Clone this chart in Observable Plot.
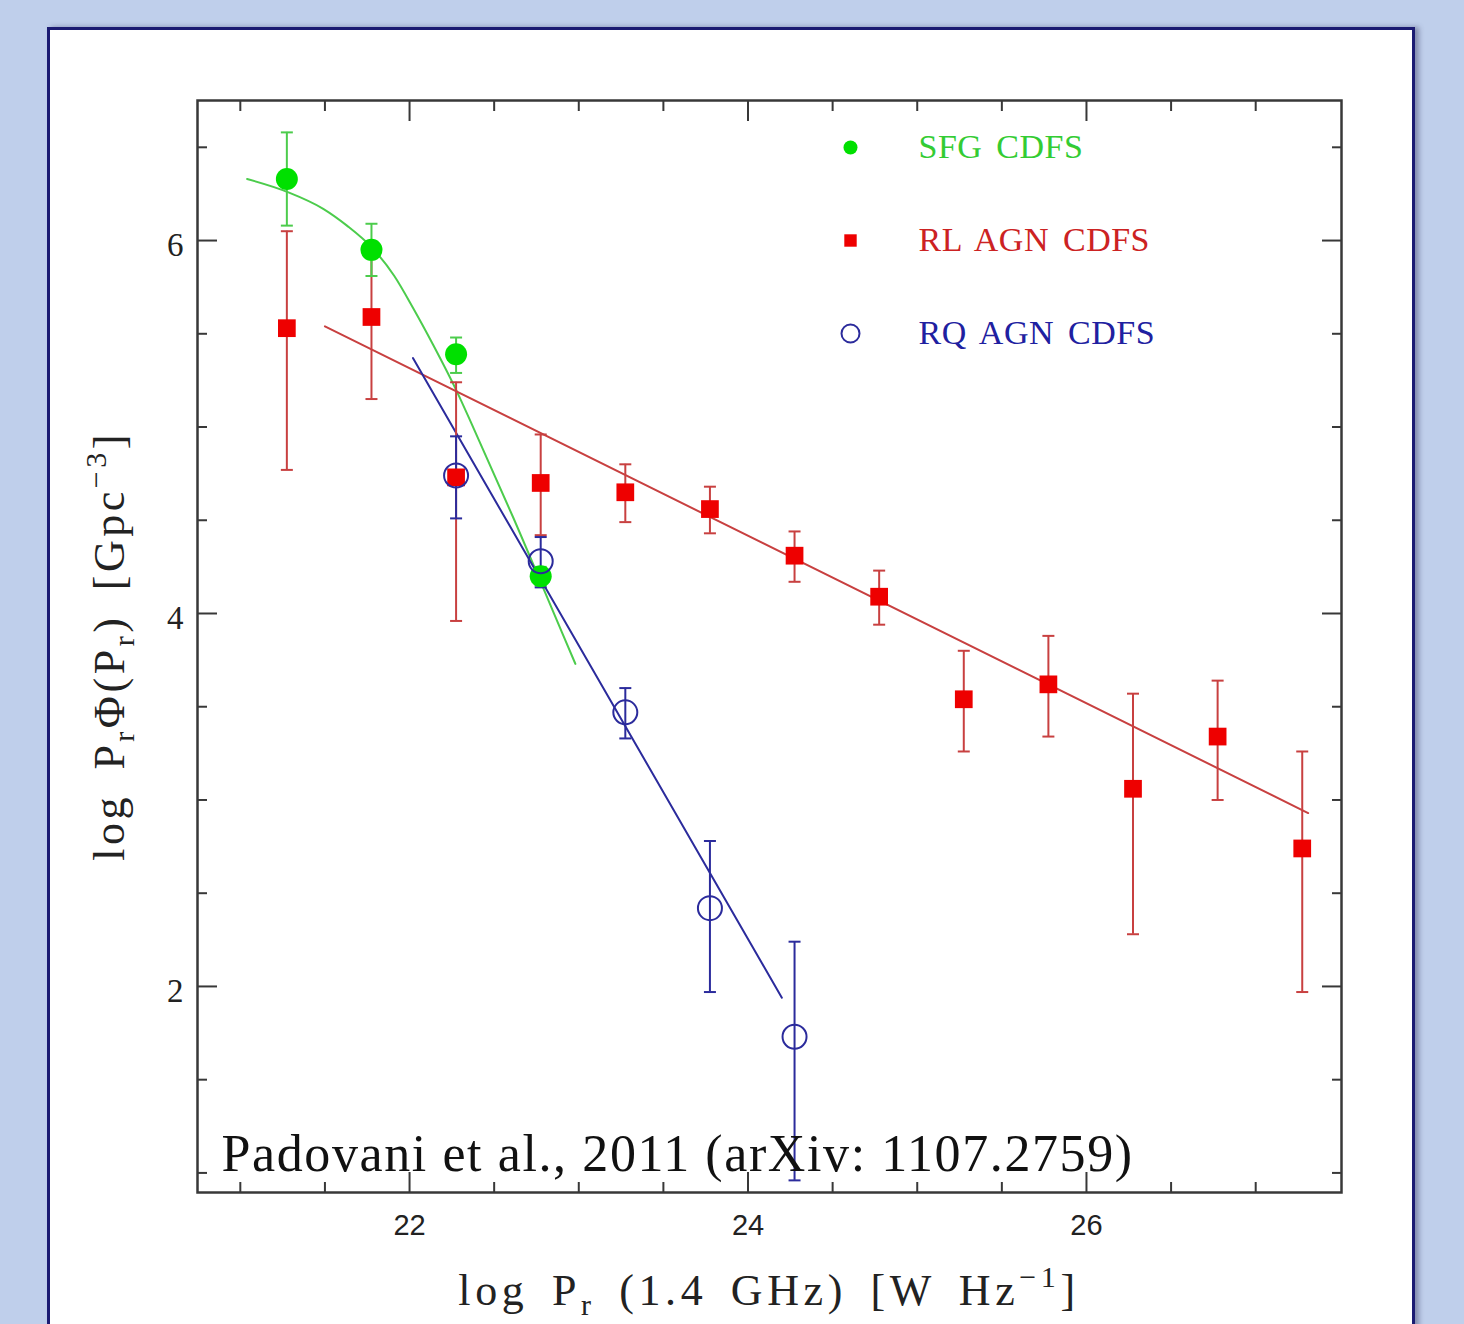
<!DOCTYPE html>
<html><head><meta charset="utf-8">
<script src="https://cdn.jsdelivr.net/npm/d3@7"></script>
<script src="https://cdn.jsdelivr.net/npm/@observablehq/plot@0.6"></script>
<style>
html,body{margin:0;padding:0;width:1464px;height:1324px;overflow:hidden;background:#bfcfeb;}
#panel{position:absolute;left:47px;top:27px;width:1362px;height:1400px;background:#fff;border:3px solid #1b1b72;box-shadow:4px 0 5px rgba(60,60,100,0.45);}
#chart{position:absolute;left:0;top:0;}
</style></head><body>
<div id="panel"></div><div id="chart"></div>
<script>
// ---- data ----
const sfgX  = [21.275, 21.775, 22.275, 22.775];
const sfgY  = [6.33, 5.95, 5.39, 4.20];
const sfgLo = [6.08, 5.81, 5.29, 4.15];
const sfgHi = [6.58, 6.09, 5.48, 4.25];

const rlX  = [21.275, 21.775, 22.275, 22.775, 23.275, 23.775, 24.275, 24.775, 25.275, 25.775, 26.275, 26.775, 27.275];
const rlY  = [5.53, 5.59, 4.73, 4.70, 4.65, 4.56, 4.31, 4.09, 3.54, 3.62, 3.06, 3.34, 2.74];
const rlLo = [4.77, 5.15, 3.96, 4.42, 4.49, 4.43, 4.17, 3.94, 3.26, 3.34, 2.28, 3.00, 1.97];
const rlHi = [6.05, 5.96, 5.24, 4.96, 4.80, 4.68, 4.44, 4.23, 3.80, 3.88, 3.57, 3.64, 3.26];

const rqX  = [22.275, 22.775, 23.275, 23.775, 24.275];
const rqY  = [4.74, 4.28, 3.47, 2.42, 1.73];
const rqLo = [4.51, 4.14, 3.33, 1.97, 0.96];
const rqHi = [4.95, 4.41, 3.60, 2.78, 2.24];

const sfgFitX = [21.04, 21.28, 21.49, 21.63, 21.78, 21.91, 22.02, 22.14, 22.28, 22.38, 22.61, 22.90, 22.98];
const sfgFitY = [6.33, 6.26, 6.17, 6.08, 5.96, 5.81, 5.64, 5.44, 5.19, 4.99, 4.52, 3.90, 3.73];
const rlFitX = [21.50, 27.31];
const rlFitY = [5.54, 2.93];
const rqFitX = [22.02, 24.20];
const rqFitY = [5.37, 1.94];

const xMajorTicks = [22, 24, 26];
const xMinorTicks = [21, 21.5, 22.5, 23, 23.5, 24.5, 25, 25.5, 26.5, 27];
const yMajorTicks = [2, 4, 6];
const yMinorTicks = [1, 1.5, 2.5, 3, 3.5, 4.5, 5, 5.5, 6.5];
const legendLabels = ["SFG CDFS", "RL AGN CDFS", "RQ AGN CDFS"];
const annotation = "Padovani et al., 2011 (arXiv: 1107.2759)";

// ---- styles ----
const GREEN = "#00e000", GREEN_L = "#4ccc4c";
const RED = "#ee0000", RED_L = "#c84040";
const BLUE = "#2b2b9c";
const AX = "#383838";

const rows = (xs, ys, lo, hi) => xs.map((x, i) => ({x, y: ys[i], lo: lo ? lo[i] : null, hi: hi ? hi[i] : null}));
const sfg = rows(sfgX, sfgY, sfgLo, sfgHi);
const rl = rows(rlX, rlY, rlLo, rlHi);
const rq = rows(rqX, rqY, rqLo, rqHi);
const sfgFit = rows(sfgFitX, sfgFitY);
const rlFit = rows(rlFitX, rlFitY);
const rqFit = rows(rqFitX, rqFitY);

const cap = {draw(ctx, size) { const w = Math.sqrt(size / Math.PI); ctx.moveTo(-w, 0); ctx.lineTo(w, 0); }};

function errBars(data, color) {
  return [
    Plot.ruleX(data, {x: "x", y1: "lo", y2: "hi", stroke: color, strokeWidth: 2}),
    Plot.dot(data, {x: "x", y: "lo", symbol: cap, r: 6, stroke: color, strokeWidth: 2}),
    Plot.dot(data, {x: "x", y: "hi", symbol: cap, r: 6, stroke: color, strokeWidth: 2})
  ];
}

const ML = 197, MR = 123, MT = 100, MB = 132;
const legendFont = {fontSize: 34, fontFamily: "Liberation Serif, serif", textAnchor: "start", lineAnchor: "middle", frameAnchor: "top-left"};
const intFmt = d => String(d);

const plot = Plot.plot({
  width: 1464, height: 1324,
  marginLeft: ML, marginRight: MR, marginTop: MT, marginBottom: MB,
  style: {background: "transparent", fontFamily: "Liberation Sans, sans-serif", color: "#222"},
  x: {domain: [20.747, 27.507]},
  y: {domain: [0.895, 6.751]},
  marks: [
    Plot.axisX({anchor: "bottom", ticks: xMinorTicks, tickSize: -10, tickFormat: () => "", label: null, stroke: AX, strokeWidth: 2}),
    Plot.axisX({anchor: "top", ticks: xMinorTicks, tickSize: -10, tickFormat: () => "", label: null, stroke: AX, strokeWidth: 2}),
    Plot.axisX({anchor: "bottom", ticks: xMajorTicks, tickSize: -20, tickFormat: () => "", label: null, stroke: AX, strokeWidth: 2}),
    Plot.axisX({anchor: "top", ticks: xMajorTicks, tickSize: -20, tickFormat: () => "", label: null, stroke: AX, strokeWidth: 2}),
    Plot.axisY({anchor: "left", ticks: yMinorTicks, tickSize: -10, tickFormat: () => "", label: null, stroke: AX, strokeWidth: 2}),
    Plot.axisY({anchor: "right", ticks: yMinorTicks, tickSize: -10, tickFormat: () => "", label: null, stroke: AX, strokeWidth: 2}),
    Plot.axisY({anchor: "left", ticks: yMajorTicks, tickSize: -20, tickFormat: () => "", label: null, stroke: AX, strokeWidth: 2}),
    Plot.axisY({anchor: "right", ticks: yMajorTicks, tickSize: -20, tickFormat: () => "", label: null, stroke: AX, strokeWidth: 2}),
    Plot.axisX({anchor: "bottom", ticks: xMajorTicks, tickFormat: intFmt, tickSize: 0, tickPadding: 22, label: null, fontSize: 29, fontFamily: "Liberation Sans, sans-serif", fill: "#222"}),
    Plot.axisY({anchor: "left", ticks: yMajorTicks, tickFormat: intFmt, tickSize: 0, tickPadding: 14, label: null, fontSize: 33, fontFamily: "Liberation Serif, serif", fill: "#222", dy: 5}),
    Plot.frame({stroke: AX, strokeWidth: 2.5}),

    Plot.line(sfgFit, {x: "x", y: "y", curve: "monotone-x", stroke: GREEN_L, strokeWidth: 2}),
    Plot.line(rlFit, {x: "x", y: "y", stroke: RED_L, strokeWidth: 2}),
    Plot.line(rqFit, {x: "x", y: "y", stroke: BLUE, strokeWidth: 2}),

    ...errBars(rl, RED_L),
    ...errBars(sfg, GREEN_L),
    ...errBars(rq, BLUE),

    Plot.dot(sfg, {x: "x", y: "y", r: 11, fill: GREEN}),
    Plot.dot(rl, {x: "x", y: "y", symbol: "square", r: 10, fill: RED}),
    Plot.dot(rq, {x: "x", y: "y", r: 12, stroke: BLUE, strokeWidth: 2, fill: "none"}),

    // legend
    Plot.dot([0], {frameAnchor: "top-left", dx: 653, dy: 47, r: 7, fill: GREEN}),
    Plot.dot([0], {frameAnchor: "top-left", dx: 653, dy: 140, r: 7, symbol: "square", fill: RED}),
    Plot.dot([0], {frameAnchor: "top-left", dx: 653, dy: 233, r: 9, stroke: BLUE, strokeWidth: 2, fill: "none"}),
    Plot.text([legendLabels[0]], {...legendFont, text: d => d, dx: 721, dy: 47, fill: "#33cc33"}),
    Plot.text([legendLabels[1]], {...legendFont, text: d => d, dx: 721, dy: 140, fill: "#cc2222"}),
    Plot.text([legendLabels[2]], {...legendFont, text: d => d, dx: 721, dy: 233, fill: "#2020a0"}),

    Plot.text([annotation], {text: d => d, frameAnchor: "bottom-left", dx: 24, dy: -22, textAnchor: "start", lineAnchor: "bottom", fontSize: 52, fontFamily: "Liberation Serif, serif", fill: "#111"})
  ]
});

const svg = d3.select(plot);
// legend spacing
svg.selectAll("text").filter(function() { return legendLabels.includes(this.textContent); })
  .style("word-spacing", "5px").style("letter-spacing", "0.5px");
// annotation spacing
svg.selectAll("text").filter(function() { return this.textContent === annotation; })
  .style("letter-spacing", "1.6px");

// axis titles
const serif = "Liberation Serif, serif";
const xt = svg.append("text").attr("x", (ML + 1464 - MR) / 2).attr("y", 1305)
  .attr("text-anchor", "middle").attr("font-family", serif).attr("font-size", 44).attr("fill", "#222")
  .style("letter-spacing", "4.6px").style("word-spacing", "8px");
xt.append("tspan").text("log P");
xt.append("tspan").attr("dy", 10).attr("font-size", 30).text("r");
xt.append("tspan").attr("dy", -10).text(" (1.4 GHz) [W Hz");
xt.append("tspan").attr("dy", -18).attr("font-size", 30).text("−1");
xt.append("tspan").attr("dy", 18).text("]");

const yt = svg.append("text").attr("transform", `translate(124,${(MT + 1324 - MB) / 2}) rotate(-90)`)
  .attr("text-anchor", "middle").attr("font-family", serif).attr("font-size", 44).attr("fill", "#222")
  .style("letter-spacing", "3.5px").style("word-spacing", "10px");
yt.append("tspan").text("log P");
yt.append("tspan").attr("dy", 10).attr("font-size", 30).text("r");
yt.append("tspan").attr("dy", -10).text("Φ(P");
yt.append("tspan").attr("dy", 10).attr("font-size", 30).text("r");
yt.append("tspan").attr("dy", -10).text(") [Gpc");
yt.append("tspan").attr("dy", -18).attr("font-size", 30).text("−3");
yt.append("tspan").attr("dy", 18).text("]");

document.getElementById("chart").appendChild(plot);
</script></body></html>
